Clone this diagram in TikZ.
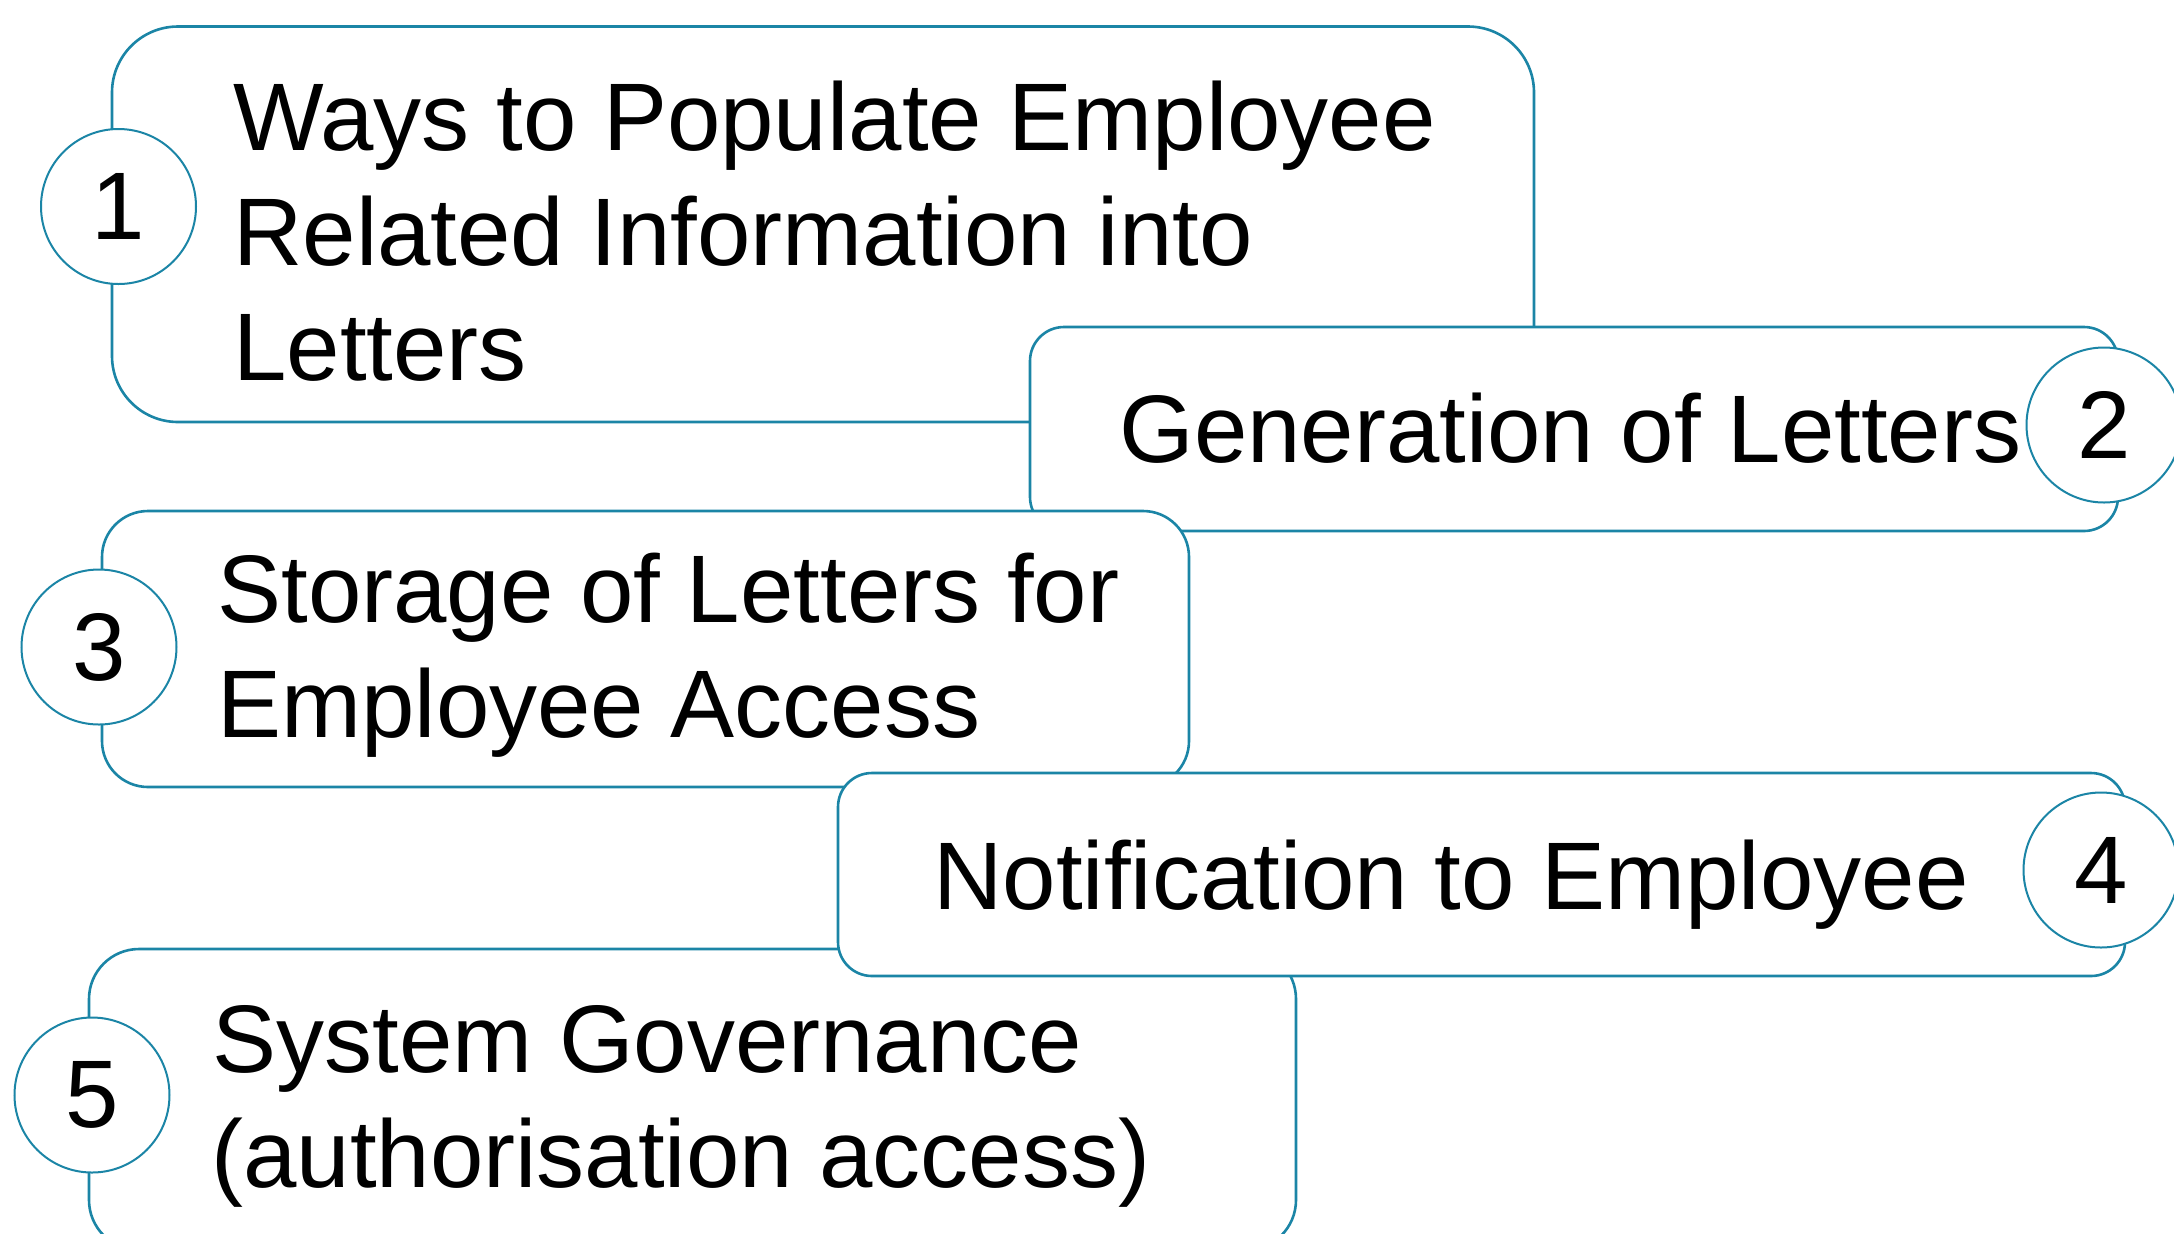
\documentclass[tikz,border=0pt]{standalone}
\usepackage{fontspec}
\setmainfont{Liberation Sans}
\definecolor{lc}{RGB}{27,133,166}
\begin{document}
\begin{tikzpicture}[x=0.5pt,y=-0.5pt,
  box/.style={rectangle, draw=lc, line width=1.3pt, fill=white, inner sep=0pt, outer sep=0pt},
  num/.style={circle, draw=lc, line width=1pt, fill=white, minimum size=77.5pt, inner sep=0pt, font=\fontsize{48}{57.5}\selectfont},
  lbl/.style={anchor=base west, inner sep=0pt, font=\fontsize{48}{57.5}\selectfont}]
\useasboundingbox (0,0) rectangle (2174,1233);
\clip (0,0) rectangle (2174,1233);
% item 1
\node[box, rounded corners=33pt, minimum width=711pt, minimum height=197.75pt] (b1) at (823,224.25) {};
\node[num] (c1) at (118.5,206.5) {1};
\node[lbl] (t1a) at (233,150) {Ways to Populate Employee};
\node[lbl] (t1b) at (233,265) {Related Information into};
\node[lbl] (t1c) at (233,380) {Letters};
% item 2
\node[box, rounded corners=17pt, minimum width=544pt, minimum height=102pt] (b2) at (1574,429) {};
\node[num] (c2) at (2104,425) {2};
\node[lbl] (t2) at (1119,462) {Generation of Letters};
% item 3
\node[box, rounded corners=23pt, minimum width=543.5pt, minimum height=138pt] (b3) at (645.5,649) {};
\node[num] (c3) at (99,647) {3};
\node[lbl] (t3a) at (217,622) {Storage of Letters for};
\node[lbl] (t3b) at (217,737) {Employee Access};
% item 5
\node[box, rounded corners=25pt, minimum width=603.5pt, minimum height=150.5pt] (b5) at (692.5,1099.5) {};
\node[num] (c5) at (92,1095) {5};
\node[lbl] (t5a) at (212,1072) {System Governance};
\node[lbl] (t5b) at (211,1187) {(authorisation access)};
% item 4
\node[box, rounded corners=17pt, minimum width=643.5pt, minimum height=101.5pt] (b4) at (1481.5,874.5) {};
\node[num] (c4) at (2101,870) {4};
\node[lbl] (t4) at (933,909) {Notification to Employee};
\end{tikzpicture}
\end{document}
